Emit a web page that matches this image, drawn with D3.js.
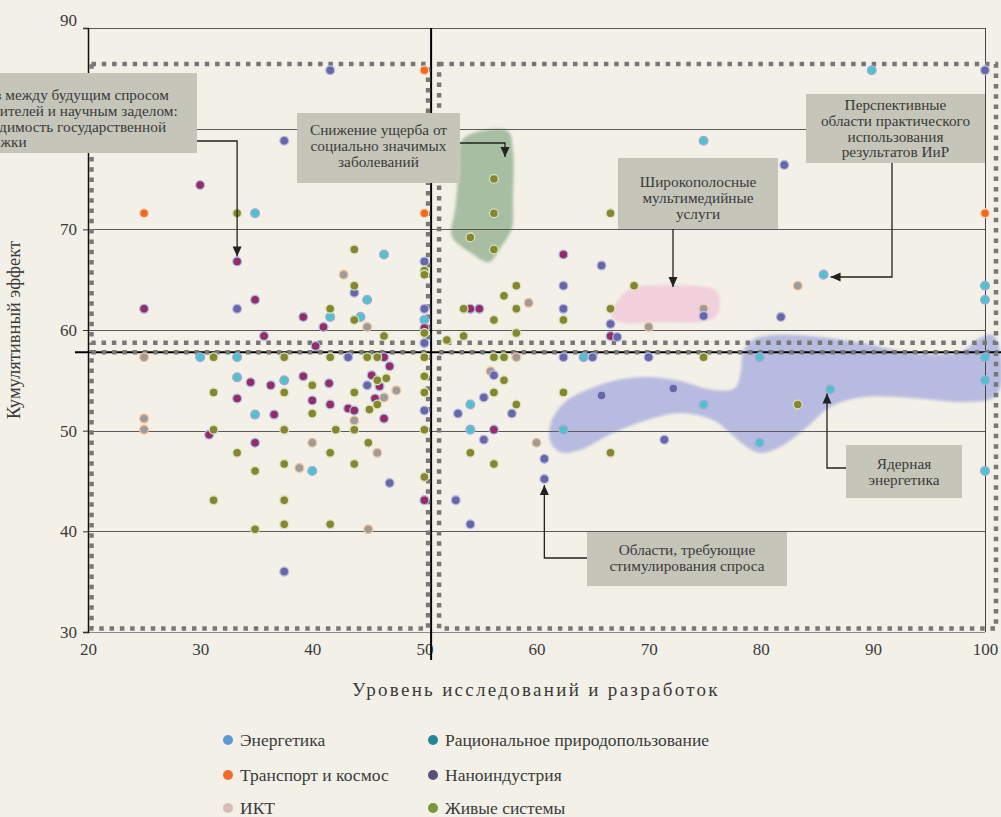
<!DOCTYPE html>
<html><head><meta charset="utf-8">
<script src="https://cdn.jsdelivr.net/npm/d3@7/dist/d3.min.js"></script>
<style>body{margin:0;background:#f3f1e7;} svg{display:block;}</style>
</head><body><svg id="c" width="1001" height="817"></svg>
<script>
// ---------- DATA ----------
const xTicks = [20,30,40,50,60,70,80,90,100];
const yTicks = [30,40,50,60,70,80,90];
const yHiddenLabel = 80; // covered by the annotation box in the original
const xTitle = "Уровень исследований и разработок";
const yTitle = "Кумулятивный эффект";
const seriesNames = ["Энергетика","Транспорт и космос","ИКТ","Рациональное природопользование","Наноиндустрия","Живые системы"];
const xSplit = 50.6, ySplit = 57.8;

const energetics = [[34.9,71.6],[30,57.3],[33.3,57.3],[33.3,55.3],[34.9,51.6],[46.4,67.5],[44.9,63.0],[50,61.0],[41.6,61.3],[44.3,61.3],[37.5,55.0],[40.0,46.0],[54.1,52.6],[54.1,50.1],[62.4,50.1],[64.2,57.3],[89.9,85.8],[74.9,78.8],[85.6,65.5],[100,64.4],[100,63.0],[79.9,57.3],[100,57.3],[100,55.0],[74.9,52.6],[86.2,54.1],[79.9,48.8],[100,46.0]];
const transport = [[25,71.6],[50,71.6],[50,85.8],[100,71.6]];
const ikt = [[25,57.3],[25,51.2],[25,50.1],[42.8,65.5],[44.9,60.3],[59.3,62.7],[58.2,57.3],[55.9,55.9],[47.5,54.0],[46.4,53.3],[43.75,51.0],[40.0,48.8],[45.8,47.8],[38.85,46.3],[45.0,40.2],[60.0,48.8],[83.3,64.4],[74.9,62.1],[70.0,60.3]];
const nature = [[30,74.4],[33.3,66.8],[25,62.1],[34.9,63.0],[35.7,59.4],[34.5,54.8],[36.3,54.5],[33.3,53.2],[30.8,49.6],[34.9,48.8],[62.4,67.5],[54.1,62.1],[54.9,62.1],[50,60.2],[39.2,61.3],[41.0,60.3],[40.3,58.4],[46.4,57.3],[46.9,56.4],[39.2,55.4],[41.5,54.7],[45.3,55.5],[46.0,54.4],[40.0,53.0],[41.6,52.6],[45.6,53.2],[36.6,51.6],[43.2,52.2],[43.75,52.0],[46.4,51.2],[56.2,50.1],[50,43.1],[66.6,59.4]];
const nano = [[41.6,85.8],[100,85.8],[37.5,78.8],[82.1,76.4],[33.3,62.1],[50,66.8],[43.75,63.7],[62.4,64.4],[62.4,62.1],[50,62.1],[50,58.7],[43.2,57.3],[56.2,55.5],[44.9,54.5],[50,52.0],[46.9,44.8],[52.8,43.1],[37.5,36.0],[54.1,40.7],[53.0,51.7],[55.3,53.3],[57.8,51.7],[55.3,49.1],[60.7,47.2],[60.7,45.2],[65.8,66.4],[74.9,61.4],[81.8,61.3],[66.6,60.6],[67.2,59.3],[65.0,57.3],[70.0,57.3],[65.8,53.5],[72.2,54.2],[71.4,49.1],[62.4,57.3]];
const living = [[33.3,71.6],[31.2,57.3],[31.2,53.8],[31.2,50.1],[33.3,47.8],[34.9,46.0],[31.2,43.1],[34.9,40.2],[56.2,75.0],[56.2,71.6],[54.1,69.2],[56.2,68.0],[43.75,68.0],[50,65.9],[50,65.5],[43.75,64.4],[58.2,64.4],[57.1,63.4],[53.5,62.1],[58.2,62.1],[56.2,61.0],[62.4,61.0],[50,59.7],[58.2,59.7],[52.0,59.0],[53.5,59.4],[41.6,62.1],[43.75,61.0],[46.4,59.4],[37.5,57.3],[41.6,57.3],[44.9,57.3],[45.8,57.3],[50,57.3],[56.2,57.3],[57.1,57.3],[57.1,55.0],[40.0,54.5],[45.8,55.0],[46.6,55.2],[43.75,53.8],[37.5,53.8],[50,55.4],[50,53.8],[56.2,53.8],[62.4,53.8],[40.0,51.7],[45.1,52.1],[45.8,52.6],[37.5,50.1],[42.1,50.1],[43.75,50.1],[50,50.1],[45.0,48.8],[41.6,47.8],[37.5,46.7],[43.75,46.7],[50,45.4],[37.5,43.1],[37.5,40.7],[41.6,40.7],[58.2,52.6],[54.1,47.8],[56.2,46.7],[66.6,71.6],[68.7,64.4],[66.6,62.1],[74.9,57.3],[83.3,52.6],[66.6,47.8]];

// highlighted regions (data units)
const greenBlob = [[53.36,78.86],[55.41,79.85],[57.46,79.75],[57.9,77.86],[57.9,72.9],[57.8,70.1],[56.75,68.1],[55.76,66.74],[54.07,67.73],[52.46,69.3],[52.73,71.9],[53.09,75.88]];
const pinkBlob = [[66.73,61.18],[67.27,62.97],[68.52,64.16],[71.0,64.46],[74.58,64.35],[76.0,63.96],[76.37,62.67],[76.0,61.28],[74.58,60.78],[71.0,60.78],[67.9,60.69]];
const blueBlob = [[61.38,51.05],[62.54,52.84],[63.88,53.73],[66.82,54.93],[69.85,55.32],[72.8,54.93],[75.74,54.03],[77.7,54.23],[78.24,56.02],[78.42,57.81],[79.22,59.0],[80.83,59.49],[84.66,59.39],[89.12,58.7],[93.58,57.71],[97.77,57.81],[99.55,59.2],[100.71,59.49],[101.34,58.0],[101.43,54.53],[100.71,53.24],[98.04,52.84],[93.58,53.24],[89.12,53.34],[86.18,52.34],[84.13,50.36],[81.72,48.37],[79.93,47.78],[78.77,48.37],[77.26,49.76],[75.74,51.05],[72.8,51.75],[69.85,51.05],[66.82,49.76],[63.88,48.07],[62.1,47.87],[61.2,49.07]];

const noteGap = ["Разрыв между будущим спросом","потребителей и научным заделом:","необходимость государственной","поддержки"];
const noteHealth = ["Снижение ущерба от","социально значимых","заболеваний"];
const noteMedia = ["Широкополосные","мультимедийные","услуги"];
const notePersp = ["Перспективные","области практического","использования","результатов ИиР"];
const noteDemand = ["Области, требующие","стимулирования спроса"];
const noteNuclear = ["Ядерная","энергетика"];

// ---------- STYLE ----------
const seriesData = [energetics, transport, ikt, nature, nano, living];
const pointFill   = ["#4ec3cb","#f26a21","#9c9c9c","#982a66","#6866a7","#858532"];
const pointStroke = ["#a9a6dc","#fcd2b3","#f6c39a","#a9b8e6","#b6b7e6","#d3e6b6"];
const legendColor = ["#5b9bd5","#f26b2b","#dcb9b9","#23879a","#5a4e7c","#76973a"];
const FONT = "'Liberation Serif','DejaVu Serif',serif";
const TXT = "#3a3a3a";

const svg = d3.select("#c");
svg.append("rect").attr("width",1001).attr("height",817).attr("fill","#f3f1e7");
const xs = d3.scaleLinear().domain([20,100]).range([88,985]);
const ys = d3.scaleLinear().domain([30,90]).range([632,28]);

const defs = svg.append("defs");
defs.append("filter").attr("id","soft").attr("x","-10%").attr("y","-10%").attr("width","120%").attr("height","120%")
  .append("feGaussianBlur").attr("stdDeviation",1.4);

// blobs
const blobLine = d3.line().x(d=>xs(d[0])).y(d=>ys(d[1])).curve(d3.curveCatmullRomClosed.alpha(0.5));
svg.append("path").attr("d",blobLine(blueBlob)).attr("fill","rgb(112,122,214)").attr("fill-opacity",0.46).attr("filter","url(#soft)");
svg.append("path").attr("d",blobLine(greenBlob)).attr("fill","rgb(92,140,92)").attr("fill-opacity",0.5).attr("filter","url(#soft)");
svg.append("path").attr("d",blobLine(pinkBlob)).attr("fill","rgb(240,168,205)").attr("fill-opacity",0.45).attr("filter","url(#soft)");

// grid lines
const g = svg.append("g");
g.selectAll(".gy").data(yTicks.filter(v=>v>30)).join("line")
  .attr("x1",xs(20)).attr("x2",xs(100)).attr("y1",d=>Math.round(ys(d))+0.5).attr("y2",d=>Math.round(ys(d))+0.5)
  .attr("stroke","#5a5a5a").attr("stroke-width",1);
g.append("line").attr("x1",xs(20)).attr("x2",xs(100)).attr("y1",Math.round(ys(30))+0.5).attr("y2",Math.round(ys(30))+0.5).attr("stroke","#8a8a8a");
g.append("line").attr("x1",Math.round(xs(100))+0.5).attr("x2",Math.round(xs(100))+0.5).attr("y1",ys(90)).attr("y2",ys(30)).attr("stroke","#444");

// y axis
const yAxis = d3.axisLeft(ys).tickValues(yTicks).tickSize(5).tickFormat(d=>d===yHiddenLabel?"":d3.format("d")(d));
const ya = svg.append("g").attr("transform",`translate(${xs(20)},0)`).call(yAxis);
ya.select(".domain").attr("stroke","#111").attr("stroke-width",1.5);
ya.selectAll(".tick line").attr("stroke","#333");
ya.selectAll(".tick text").attr("font-family",FONT).attr("font-size",17).attr("fill",TXT).attr("x",-11);
ya.selectAll(".tick").filter(d=>d===90).select("text").attr("dy","-0.15em");

// x axis
const xa = svg.append("g").attr("transform",`translate(0,${ys(30)})`).call(d3.axisBottom(xs).tickValues(xTicks).tickSize(0).tickFormat(d3.format("d")));
xa.select(".domain").remove();
xa.selectAll(".tick text").attr("font-family",FONT).attr("font-size",17).attr("fill",TXT).attr("dy","1.2em");

// central black lines
svg.append("line").attr("x1",xs(xSplit)).attr("x2",xs(xSplit)).attr("y1",ys(90)).attr("y2",ys(30)+28).attr("stroke","#000").attr("stroke-width",2);
svg.append("line").attr("x1",75).attr("x2",1001).attr("y1",ys(ySplit)).attr("y2",ys(ySplit)).attr("stroke","#000").attr("stroke-width",2);

// dotted quadrant frames
const xl0 = xs(20)+3.5, xl1 = xs(xSplit)-3, xr0 = xs(xSplit)+8, xr1 = xs(100)+11;
const yt0 = 64, yt1 = ys(ySplit)-9.5, yb0 = ys(ySplit), yb1 = ys(30)-3.5;
[[xl0,yt0,xl1,yt1],[xl0,yb0,xl1,yb1],[xr0,yt0,xr1,yt1],[xr0,yb0,xr1,yb1]].forEach(r=>{
  svg.append("rect").attr("x",r[0]).attr("y",r[1]).attr("width",r[2]-r[0]).attr("height",r[3]-r[1])
    .attr("fill","none").attr("stroke","#777").attr("stroke-width",4.5).attr("stroke-dasharray","4.5,5.8");
});

// points
seriesData.forEach((arr,i)=>{
  svg.append("g").selectAll("circle").data(arr).join("circle")
    .attr("cx",d=>xs(d[0])).attr("cy",d=>ys(d[1])).attr("r",4.4)
    .attr("fill",pointFill[i]).attr("stroke",pointStroke[i]).attr("stroke-width",1.3);
});

// arrows
function arrow(pts){
  svg.append("path").attr("d",d3.line()(pts)).attr("fill","none").attr("stroke","#222").attr("stroke-width",1.3);
  const a=pts[pts.length-2], b=pts[pts.length-1];
  const ang=Math.atan2(b[1]-a[1],b[0]-a[0]);
  const L=10,Wd=4.5;
  const bx=b[0]-L*Math.cos(ang), by=b[1]-L*Math.sin(ang);
  const p1=[bx+Wd*Math.sin(ang), by-Wd*Math.cos(ang)], p2=[bx-Wd*Math.sin(ang), by+Wd*Math.cos(ang)];
  svg.append("path").attr("d",`M${b[0]},${b[1]}L${p1[0]},${p1[1]}L${p2[0]},${p2[1]}Z`).attr("fill","#222");
}
arrow([[197,141],[xs(33.3),141],[xs(33.3),ys(66.8)-5]]);
arrow([[460,143],[505,143],[505,157]]);
arrow([[673,229],[673,287]]);
arrow([[892,163],[892,277],[xs(85.6)+7,277]]);
arrow([[587,558],[xs(60.7),558],[xs(60.7),ys(45.2)+6]]);
arrow([[846,468],[827,468],[827,ys(54.1)+4]]);

// annotation boxes
function note(lines, x0,y0,x1,y1, tx, anchor, by0, lh){
  svg.append("rect").attr("x",x0).attr("y",y0).attr("width",x1-x0).attr("height",y1-y0).attr("fill","#c5c6b9");
  svg.append("g").selectAll("text").data(lines).join("text")
    .attr("x",tx).attr("y",(d,i)=>by0+i*lh).attr("text-anchor",anchor)
    .attr("font-family",FONT).attr("font-size",15.3).attr("fill",TXT).text(d=>d);
}
note(noteGap,-80,73,197,153,-45,"start",100,15.8);
note(noteHealth,297,113,460,183,378.5,"middle",135,16);
note(noteMedia,618,158,778,229,698,"middle",187,15.8);
note(notePersp,806,94,985,163,895.5,"middle",110,15.8);
note(noteDemand,587,532,787,586,687,"middle",555,16);
note(noteNuclear,846,445,962,498,904,"middle",469,16);

// axis titles
svg.append("text").attr("x",536).attr("y",696).attr("text-anchor","middle").attr("font-family",FONT)
  .attr("font-size",19).attr("letter-spacing",2.3).attr("fill",TXT).text(xTitle);
svg.append("text").attr("transform","translate(20,330) rotate(-90)").attr("text-anchor","middle").attr("font-family",FONT)
  .attr("font-size",18.5).attr("fill",TXT).text(yTitle);

// legend
const legPos = [[228,740],[228,775],[228,808],[433,740],[433,775],[433,808]];
const lg = svg.append("g").selectAll("g").data(seriesNames).join("g").attr("transform",(d,i)=>`translate(${legPos[i][0]},${legPos[i][1]})`);
lg.append("circle").attr("r",5).attr("fill",(d,i)=>legendColor[i]);
lg.append("text").attr("x",12).attr("y",6).attr("font-family",FONT).attr("font-size",17.5).attr("fill",TXT).text(d=>d);
</script></body></html>
